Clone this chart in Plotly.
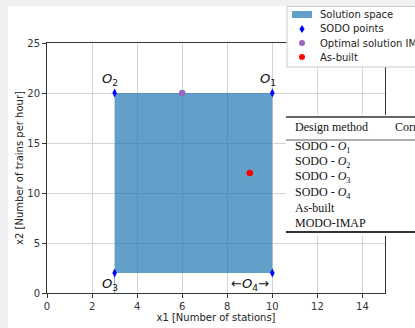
import plotly.graph_objects as go

# ---------------- data ----------------
space_x = [3, 10, 10, 3, 3]
space_y = [2, 2, 20, 20, 2]

sodo_x = [10, 3, 3, 10]
sodo_y = [20, 20, 2, 2]
sodo_names = ["O1", "O2", "O3", "O4"]

imap_x = [6]
imap_y = [20]

asbuilt_x = [9]
asbuilt_y = [12]

x_ticks = [0, 2, 4, 6, 8, 10, 12, 14]
y_ticks = [0, 5, 10, 15, 20, 25]

legend_labels = ["Solution space", "SODO points", "Optimal solution IMAP", "As-built"]

table_header = ["Design method", "Corresponding values"]
table_rows = [
    "SODO - <i>O</i><sub>1</sub>",
    "SODO - <i>O</i><sub>2</sub>",
    "SODO - <i>O</i><sub>3</sub>",
    "SODO - <i>O</i><sub>4</sub>",
    "As-built",
    "MODO-IMAP",
]

# ---------------- geometry helpers (page pixels -> paper) ----------------
PAGE_L, PAGE_T = 8, 6
FIG_W, FIG_H = 415 - PAGE_L, 328 - PAGE_T
M_L, M_R, M_T, M_B = 39, 30, 37, 35
PW = FIG_W - M_L - M_R
PH = FIG_H - M_T - M_B


def px(x):
    return (x - PAGE_L - M_L) / PW


def py(y):
    return (PAGE_T + M_T + PH - y) / PH


FILL = "rgba(31,119,180,0.7)"
BLUE = "#0000ff"
PURPLE = "#9467bd"
RED = "#ff0000"
FONT = "DejaVu Sans"

fig = go.Figure()

fig.add_trace(go.Scatter(x=space_x, y=space_y, fill="toself", fillcolor=FILL,
                         mode="lines", line=dict(width=0), name=legend_labels[0],
                         showlegend=False, hoverinfo="skip"))
fig.add_trace(go.Scatter(x=[sodo_x[2], sodo_x[2]], y=[0, sodo_y[2]], mode="lines",
                         line=dict(color="rgba(31,119,180,0.6)", width=1),
                         showlegend=False, hoverinfo="skip"))
fig.add_trace(go.Scatter(x=sodo_x, y=sodo_y, mode="markers", name=legend_labels[1],
                         marker=dict(symbol="diamond-tall", size=6.5, color=BLUE),
                         showlegend=False))
fig.add_trace(go.Scatter(x=imap_x, y=imap_y, mode="markers", name=legend_labels[2],
                         marker=dict(symbol="circle", size=6.5, color=PURPLE),
                         showlegend=False))
fig.add_trace(go.Scatter(x=asbuilt_x, y=asbuilt_y, mode="markers", name=legend_labels[3],
                         marker=dict(symbol="circle", size=6.5, color=RED),
                         showlegend=False))

# O labels
ofont = dict(family=FONT, size=13, color="#111")
for i, (xv, yv) in enumerate(zip(sodo_x, sodo_y)):
    num = sodo_names[i][1]
    txt = "<i>O</i><sub>%s</sub>" % num
    if i == 3:
        txt = "\u2190<i>O</i><sub>%s</sub>\u2192" % num
        ax_x, ax_y = xv - 1.0, yv - 1.1
    elif yv > 10:
        ax_x, ax_y = xv - 0.2, yv + 1.4
    else:
        ax_x, ax_y = xv - 0.2, yv - 1.1
    fig.add_annotation(x=ax_x, y=ax_y, xref="x", yref="y", text=txt, showarrow=False,
                       font=ofont, xanchor="center", yanchor="middle")

shapes = []
annots = []

# ---------------- table overlay ----------------
TX0, TX1 = 286, 430
shapes.append(dict(type="rect", xref="paper", yref="paper", x0=px(TX0), x1=px(TX1),
                   y0=py(236), y1=py(115), fillcolor="white", line=dict(width=0), layer="above"))
for yy, w in [(117, 1.6), (140, 0.8), (232, 2.0)]:
    shapes.append(dict(type="line", xref="paper", yref="paper", x0=px(TX0), x1=px(TX1),
                       y0=py(yy), y1=py(yy), line=dict(color="#333", width=w), layer="above"))
tfont = dict(family="Liberation Serif", size=12, color="#111")
annots.append(dict(x=px(293), y=py(127), text=table_header[0]))
annots.append(dict(x=px(393), y=py(127), text=table_header[1]))
row_y = [147, 162, 177, 193, 208, 223]
for t, yy in zip(table_rows, row_y):
    annots.append(dict(x=px(293), y=py(yy), text=t))
for a in annots:
    fig.add_annotation(xref="paper", yref="paper", xanchor="left", yanchor="middle",
                       showarrow=False, font=tfont, **a)

# ---------------- legend overlay ----------------
shapes.append(dict(type="rect", xref="paper", yref="paper", x0=px(287), x1=px(440),
                   y0=py(67), y1=py(6.5), fillcolor="white",
                   line=dict(color="#cccccc", width=1), layer="above"))
shapes.append(dict(type="rect", xref="paper", yref="paper", x0=px(292), x1=px(312),
                   y0=py(18), y1=py(11), fillcolor=FILL, line=dict(width=0), layer="above"))
cx, cy = 302, 29
shapes.append(dict(type="path", xref="paper", yref="paper",
                   path="M %f %f L %f %f L %f %f L %f %f Z" % (
                       px(cx), py(cy - 4), px(cx + 2.6), py(cy), px(cx), py(cy + 4), px(cx - 2.6), py(cy)),
                   fillcolor=BLUE, line=dict(width=0), layer="above"))
for col, cyy in [(PURPLE, 43), (RED, 57)]:
    shapes.append(dict(type="circle", xref="paper", yref="paper", x0=px(cx - 3), x1=px(cx + 3),
                       y0=py(cyy + 3), y1=py(cyy - 3), fillcolor=col, line=dict(width=0), layer="above"))
lfont = dict(family=FONT, size=10, color="#222")
for lab, yy in zip(legend_labels, [15, 29, 43, 57]):
    fig.add_annotation(xref="paper", yref="paper", x=px(318), y=py(yy), text=lab,
                       xanchor="left", yanchor="middle", showarrow=False, font=lfont)

axis_common = dict(showgrid=True, gridcolor="#d3d3d3", gridwidth=1, showline=True,
                   linecolor="#333", linewidth=1, mirror=True, ticks="outside", ticklen=4,
                   tickcolor="#333", zeroline=False, automargin=False,
                   tickfont=dict(family=FONT, size=10, color="#333"))

fig.update_layout(
    width=FIG_W, height=FIG_H,
    margin=dict(l=M_L, r=M_R, t=M_T, b=M_B, pad=0, autoexpand=False),
    paper_bgcolor="white", plot_bgcolor="white",
    showlegend=False,
    shapes=shapes,
    xaxis=dict(range=[0, 15], tickvals=x_ticks,
               title=dict(text="x1 [Number of stations]", font=dict(family=FONT, size=10, color="#222"),
                          standoff=1), **axis_common),
    yaxis=dict(range=[0, 25], tickvals=y_ticks,
               title=dict(text="x2 [Number of trains per hour]", font=dict(family=FONT, size=10, color="#222"),
                          standoff=1), **axis_common),
)

fig.write_html("out.html", post_script=(
    "document.body.style.margin='%dpx 0 0 %dpx';"
    "document.body.style.background='#f0f0f0';"
    "document.body.style.overflow='hidden';" % (PAGE_T, PAGE_L)))
